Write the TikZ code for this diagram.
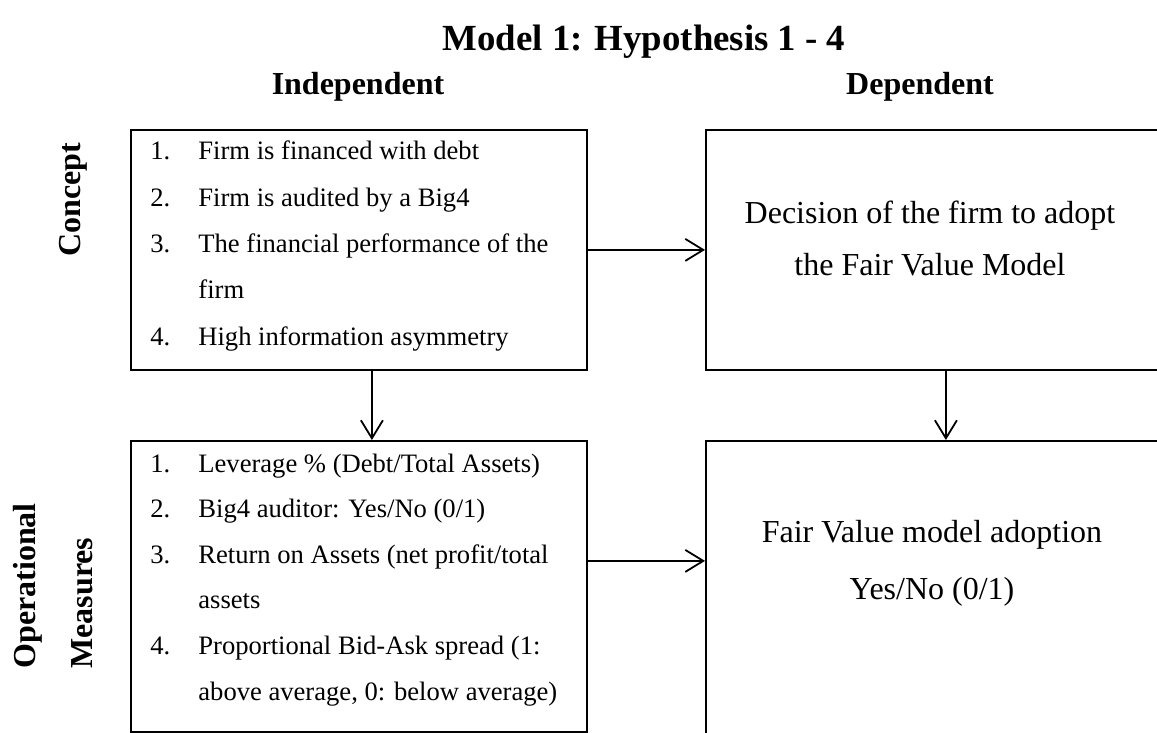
\documentclass[tikz,border=0pt]{standalone}
\usepackage{fontspec}
\setmainfont{Liberation Serif}
\usetikzlibrary{arrows.meta}

\tikzset{
  box/.style={draw, line width=0.9pt, rectangle, anchor=north west, inner sep=0pt},
  item/.style={anchor=base west, inner sep=0pt, font=\fontsize{13.3}{15}\selectfont},
  big/.style={anchor=base, inner sep=0pt, font=\fontsize{16}{19}\selectfont},
  head/.style={anchor=base, inner sep=0pt, font=\bfseries\fontsize{16}{19}\selectfont},
  link/.style={-{Straight Barb[length=9pt,width=11pt]}, line width=0.9pt},
}

\begin{document}
\begin{tikzpicture}[x=0.5pt,y=-0.5pt]
	\useasboundingbox (0,0) rectangle (1157,733);
	% headings
	\node[head, font=\bfseries\fontsize{18.4}{22}\selectfont] (title) at (644,51) {Model 1: Hypothesis 1 - 4};
	\node[head] (indep) at (358,95) {Independent};
	\node[head] (dep) at (920,95) {Dependent};
	\node[head, rotate=90, anchor=center] (concept) at (73,200) {Concept};
	\node[head, rotate=90, anchor=west, align=left, font=\bfseries\fontsize{16}{28.5}\selectfont] (opm) at (53,669) {Operational\\Measures};
	% boxes
	\node[box, minimum width=228pt, minimum height=120pt] (cl) at (130,129) {};
	\node[box, minimum width=228pt, minimum height=120pt] (cr) at (705,129) {};
	\node[box, minimum width=228pt, minimum height=145.5pt] (ol) at (130,440) {};
	\node[box, minimum width=228pt, minimum height=155pt] (or) at (705,440) {};
	% concept items
	\foreach \n/\txt [count=\i from 0] in {1./Firm is financed with debt, 2./Firm is audited by a Big4, 3./The financial performance of the, /firm, 4./High information asymmetry}
		\node[item] (c\i) at (150,{160+46.25*\i}) {\makebox[24pt][l]{\n}\txt};
	% measures items
	\foreach \n/\txt [count=\i from 0] in {1./{Leverage \% (Debt/Total Assets)}, 2./{Big4 auditor: Yes/No (0/1)}, 3./{Return on Assets (net profit/total}, /assets, 4./{Proportional Bid-Ask spread (1:}, /{above average, 0: below average)}}
		\node[item] (m\i) at (150,{472+45.6*\i}) {\makebox[24pt][l]{\n}\txt};
	\node[big] (dec1) at (930,223) {Decision of the firm to adopt};
	\node[big] (dec2) at (930,275) {the Fair Value Model};
	\node[big] (fv1) at (932,542) {Fair Value model adoption};
	\node[big] (fv2) at (932,599) {Yes/No (0/1)};
	% arrows
	\draw[link] (cl.east) -- (cl.east -| cr.west);
	\draw[link] ([yshift=12.75pt]ol.east) coordinate (ao) -- (ao -| or.west);
	\draw[link] ([xshift=6.5pt]cl.south) coordinate (ac) -- (ac |- ol.north);
	\draw[link] ([xshift=6pt]cr.south) coordinate (ad) -- (ad |- or.north);
\end{tikzpicture}
\end{document}
